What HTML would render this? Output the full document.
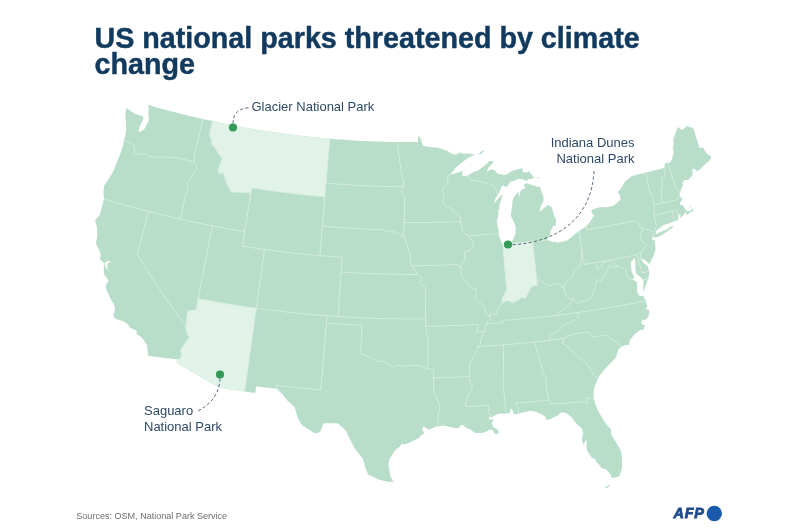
<!DOCTYPE html>
<html lang="en"><head><meta charset="utf-8"><title>US national parks threatened by climate change</title>
<style>
html,body{margin:0;padding:0;background:#fff;}
body{width:800px;height:530px;position:relative;overflow:hidden;font-family:"Liberation Sans",sans-serif;}
svg{position:absolute;left:0;top:0;}
h1{position:absolute;left:94.5px;top:24.5px;margin:0;font-size:28.7px;line-height:26px;font-weight:bold;color:#113a5e;white-space:nowrap;-webkit-text-stroke:0.45px #113a5e;}
.lab{position:absolute;font-size:13px;line-height:16.2px;color:#2f4a66;white-space:nowrap;}
.src{position:absolute;left:76.3px;top:510.7px;font-size:9.05px;line-height:11px;color:#6e6e6e;white-space:nowrap;}
.afp{position:absolute;left:673.6px;top:505.2px;font-size:14.4px;line-height:17px;font-weight:bold;font-style:italic;color:#1d4a8a;letter-spacing:0.75px;-webkit-text-stroke:0.8px #1d4a8a;}
</style></head><body>
<svg width="800" height="530" viewBox="0 0 800 530">
<path d="M147.8,104.8L148.9,108.5L148.3,112.5L148.4,115.6L149,120.3L147.5,122.9L146.1,125.5L145.2,127.5L144.2,129.5L140.7,131.5L138.5,131.7L139.1,128L139.9,126L140.8,124L143,120.1L143.4,116.8L141.7,116.1L140.1,115.4L137.7,114.7L135.3,114L132.9,112.5L130.4,111L128.5,109.4L126.5,107.8L125.9,111.3L125.3,114.8L125.7,118.7L126,122.6L126.1,126.1L126.2,129.5L125.8,133.2L125,136.4L124.2,139.6L123.7,142.1L123.3,144.7L122.4,147.5L121.6,150.3L120.3,153.8L119,157.2L117.9,159.7L116.9,162.2L115.7,165.1L114.6,168L113.4,170.9L111.8,173.7L110.1,176.5L108.4,179.4L106.2,182.6L104,185.9L103.7,189.2L103.5,192.5L103.7,195.7L104,198.9L103,202.4L102.2,205.8L101.3,209.2L100.5,212.5L98.9,215.9L97,218.1L95.1,220.3L96,223.8L97,227.2L97.1,231.8L97.3,236.3L96.6,240L96,243.7L98,247.8L100,251.8L100.8,255.2L99.9,259.5L101.4,260.8L103,262L104.9,263.8L106,262.1L108.1,261.1L111.4,262.1L107.5,263.3L107.4,267.9L108.5,270.5L106.9,268.9L105.4,267.3L105.7,264.6L104.5,264.3L103.6,268.4L103.9,271.5L104.2,274.7L106.5,277.7L108.7,280.6L106.8,283.1L106.2,285.3L105.6,287.4L107.2,291.2L108.8,295L110.5,298.8L112.2,301.4L113.9,304L114.9,307.7L114.6,311.4L113.9,313.7L113.3,316L115,318.4L117.9,319.4L120.9,320.5L123.8,321.5L126,323L128.1,324.5L129.8,327.6L132.1,328.7L134.3,329.8L136.6,330.8L136.9,334.7L139.8,335.8L142.4,338.2L144.7,341.8L147.1,345.4L147.3,348.1L147.5,350.8L147.9,353.3L148.2,355.9L151.6,356.3L154.9,356.7L158.2,357.1L161.5,357.5L164.8,357.9L168.1,358.3L171.4,358.6L174.7,359L178,359.3L176.3,362.5L179.5,364.4L182.8,366.4L186.1,368.4L189.4,370.4L192.7,372.3L196,374.3L199.3,376.2L202.6,378.2L206,380.1L209.3,382L212.7,383.9L216.1,385.8L219.4,387.7L223,388.3L226.6,388.8L230.3,389.4L233.9,389.9L237.5,390.4L241.1,391L244.7,391.5L248.2,391.9L251.7,392.4L255.2,392.9L255.7,389.6L256.1,386.3L259.6,386.7L263.1,387.2L266.6,387.6L270.1,388L273.6,388.4L277.1,388.8L280.1,392L283.1,395.1L285.3,398L287.6,400.8L290,403L292.4,405.2L294.9,407.5L295.7,410.7L296.6,414L297.5,417.3L299.3,420.8L301.2,424.2L304,426.3L306.9,428.5L309.8,430.2L312.7,431.9L315.6,433.6L318,432.7L320.3,431.8L321.4,428.9L322.5,426L323.5,423.2L326.3,423.2L329.1,423.2L331.9,423.3L334.8,423.3L337.7,423.3L340.4,425.7L343.1,428.1L345.7,430.4L347.3,433.7L348.9,437L350.4,440.2L352.8,444.8L355.3,449.3L357.8,452.3L360.3,455.4L362.8,458.4L363.6,461.4L364.4,464.3L365.1,467.3L366.7,471L368.2,474.7L371.7,476.3L375.2,477.9L378.7,479.4L381.7,480.2L384.6,481L387.5,481.8L390.6,481.8L393.6,481.9L392,478.9L390.3,476L389.7,472L389,468L388.4,464L389,461.5L389.5,459L392,455L393.8,452.4L395.5,449.7L397.8,448.1L400,446.5L401.5,443.8L404,444.6L407,443.5L410,442.4L412.8,441L415.5,439.7L418.3,438.3L420.9,435.8L424.7,432.8L422.1,429.9L423.4,426.2L426,428L428.6,429.8L431.8,428.4L435,427.1L436.9,426.7L440.4,426.1L444,425.5L447,426.3L450,427L453.1,427.7L455.7,428L458.3,428.3L462,424.5L464.7,426.6L467.3,428.6L470,429.3L472.7,431.3L475.3,432.7L478.6,432.9L481.8,433.1L484.4,432.2L486.9,431.3L489.4,429.6L492.7,430.2L494.9,433.7L498.2,434.2L498.6,430.5L495.9,428.8L493.2,427.2L492.4,425L491.6,422.9L493.9,419.8L491.4,419.6L488.8,419.4L489.3,417.1L492.1,417.2L494.9,415.3L498,413.9L499.9,413.4L502.2,413.6L504.4,413.8L506.3,413.2L509.6,413.4L510.5,408.9L512.1,408.8L513.4,413.1L515.4,414.4L517.7,413.8L519.7,413.2L521.7,412.7L524.6,412L527.6,411.4L530.5,410.8L533.1,411.3L535.8,411.7L538.5,412.9L541.2,414.1L545.3,416.7L546.3,420L548.5,419.5L550.8,419L554.4,417.1L558.1,415.2L559.8,413.6L561.6,412.1L564.3,412.7L566.9,413.3L571.3,416.9L574.1,420.6L576.8,424.2L579.4,426.3L582,428.4L582.5,431.3L583.1,434.2L582,438L582,441L582.9,443.1L583.7,445.2L585.1,441.3L587,440.3L586.7,442.9L586.4,445.6L586.6,447.8L586.8,450L588,452L589.3,454L590.8,456.1L592.2,458.1L595.7,459L595.4,461.3L597.5,463.3L599.6,465.3L601.4,468.1L603.7,468.7L606.1,469.3L608.3,471.9L610.6,474.5L611.6,478L613.6,477.7L616.5,476.9L619.5,476L620.7,472.1L621.4,469.7L622.2,467.2L622.1,464.6L622,462L621.8,457.8L621.5,453.5L620.4,450L618.5,446.6L616.7,443.5L614.9,440.5L613,437.5L611.1,434.4L611,431.8L610.8,429.1L607.3,425.4L605.1,422.4L603,419.3L601.2,416.2L599.4,413L597.6,409.8L596.5,406.9L595.4,404.1L594.7,401.3L593.9,398.4L593.7,395.1L593.6,391.7L594.1,389L594.6,386.3L596.5,382.1L598.4,377.8L599.9,375L602.6,372.3L604.1,369.8L606.2,367.6L608.4,365.4L610.5,363.1L612.6,360.9L614.3,359.1L616,357.3L617.2,353.3L618.4,349.3L620.2,347.9L622,346.4L624,345.7L626,344.9L629.1,345.1L629.5,342.4L630,339.6L632.3,336.9L634.5,334.2L637,332.4L639.4,330.5L641.4,330L643.5,329.4L645.1,325.3L641.8,324.4L641.7,320.7L644.3,319.8L646.8,318.9L649,314.6L649.2,310L646,309.2L647.2,305.9L646.5,303.4L645.8,300.9L644.5,298.3L643.2,295.7L639.6,296.1L637,292.1L637.3,287.5L637,284.9L636.8,282.3L635.3,281.1L631.5,279.6L634.2,278.3L633.6,275.4L632.6,273.3L631.5,271.2L631.2,266.8L630.9,262.3L632.7,260L634.6,257.7L635.3,261.4L635.4,264.4L635.4,267.4L635.8,270.4L636.1,273.3L640.4,277L643.4,280.1L643.4,282.8L643.4,285.4L643.3,289.1L643.2,292.8L644.3,289.7L645.4,286.5L646.5,283.3L647.6,280L648.4,278.3L648.8,275.7L649.3,273.1L649.2,271.3L648.4,268.8L647.6,266.3L645.4,264.5L643.2,262.7L641.3,259.3L640.3,257.3L642.2,259.1L645.7,260.6L649.4,263.9L651.3,260.2L653.3,256.5L654.4,253.2L655.5,249.9L655.3,246.6L655.1,243.3L654.3,239.7L651.4,239.6L652.5,237L653.2,236.1L653.5,233L653.5,231.5L653.7,234.5L653.5,237.6L655,237.7L657.1,236.9L659.2,236.2L661.3,235.4L663.7,233.8L666,232.3L668.2,230.7L671.2,228.6L674.1,226.5L670.7,226.6L669,227.9L667.3,229.2L665,230.2L662.6,231.1L660,232.2L657.4,233.2L655.4,234.4L656.2,230.9L658.6,228.8L661,226.9L663.4,225L665.5,224.4L667.7,223.8L669.8,223L671.8,222.1L674.5,221.6L676.4,220.7L678.3,219.8L678.3,216.2L677.6,213.3L679.9,215.8L679.9,217.8L681.7,216.8L682.8,215.8L683.6,214.8L686.1,211.8L686.4,215.2L688.2,213.9L689.9,212.6L691.7,211.8L693.5,211L692.8,208.4L689.8,205.9L688.8,206.5L691.4,207.6L692.3,209.6L689.6,211.3L687.3,211.2L685,209L683.3,205.7L679.7,204.3L680.1,202.7L681.4,200.8L682.8,198.9L679.6,196.4L679.9,193.3L681.4,188.6L683.4,184.7L682.3,183L684.9,180L686.6,179.9L688.4,179.8L689.8,178.2L691.1,176.7L692.6,174L692.4,171.5L692.3,169.1L694.4,168.8L696.8,171.2L698.5,170.3L700.1,169.4L702.6,166.4L704.3,165L706.1,163.5L707.9,162L709.6,160.4L711.4,157.3L710.7,156.2L706.5,153.2L704.8,150.5L703.2,147.8L701.1,147.7L699.1,147.5L698.2,144.1L697,140.1L695.8,136.2L694.6,132.3L693.3,128.3L691.6,127.5L689.2,126.7L686.9,126L684.7,128.2L683.4,129.1L682,130L679.9,128.5L677.8,127L676.2,131.3L674.7,135.5L673.1,139.8L673.4,142L673.7,144.2L672.7,149L673.8,151.8L673,155L672.4,157.5L671.7,160L670.2,162.6L667.7,162.5L666.2,163.3L664.6,164.1L664.5,167.8L661.8,168.5L659.1,169.2L656.4,169.9L653.7,170.5L651,171.2L648.3,171.9L645.6,172.5L642.9,173.2L640.1,173.9L637.4,174.6L634.6,175.2L631.8,175.9L629.4,177.9L627,180L624.6,182L623,185.1L621.3,188.3L619.5,190.2L617.7,192.1L619.6,194.4L620.1,196.9L620.6,199.4L617.9,202.1L615.5,204L613.2,205.9L610,206.6L606.8,207.3L604.6,207.2L602.4,207.1L600.2,206.9L597.2,208L594.2,209.1L591.2,210.2L591.7,212.8L594,215.4L592.1,218.6L590.2,221.8L588.3,223.9L586.4,225.9L584.7,227.2L583,228.6L580.9,230L578.8,231.5L576,233.2L573.8,235L571.6,236.9L569.3,238.7L567.1,240.5L564.5,241.1L561.9,241.7L559.1,242.3L556.2,242.8L555.8,241.6L553.5,242.2L550.3,241L547.2,239.9L548.2,237.2L550.1,234.7L550.6,230.5L552.2,228.5L552.8,226.1L555.7,225.4L555.9,222.6L556.1,219.7L554.3,215.9L553.1,211.8L551.9,207.6L550,206.3L548.1,204.9L545.1,207.2L542.3,209.8L539.5,212.3L540.1,209.2L540.6,206.2L542.6,203L543.6,200.3L543.5,196.9L542.4,194L541.3,191.1L540.2,187L538.4,186.7L536.6,186.4L534.3,185.7L532,185L529.7,184.3L526.4,183.2L523.9,184.5L524.9,188.5L523.3,189.1L521.8,189.6L520.5,191.6L519.7,194.8L518.9,198.1L518.9,194.9L518.9,191.7L516.5,194.2L514,196.7L512.6,200.8L512.4,203.6L512.2,206.5L511.4,211L511.1,213.2L510.8,215.5L512.2,218.5L513.6,221.4L514.8,223.8L515.7,228.1L515.6,230.8L515.5,233.6L513.6,238.2L512.4,240.6L511.2,242.9L510.5,243.6L509.7,244.3L507.5,245.2L505.4,246.1L502.7,244.3L501.8,243L500.8,240.2L499.8,237.9L498.8,235.7L498.8,233.6L498.7,230.2L498,228L497.3,225.8L497.1,223.2L496.9,220.6L497.6,217.9L498.3,215.2L498.4,212.6L498.4,210.1L499.4,209.2L499.5,206.9L499.5,204.6L500.4,202L501.2,199.4L502.1,196.7L503,194.1L501.2,195.7L499.4,197.3L496.5,200.5L494.2,204L494.7,201.2L495.3,198.4L497.7,195.3L499.9,190.7L501.2,188L502.4,185.3L504.7,186.2L506.9,187.1L508.7,184.3L510.5,181.5L512.3,181.2L514.1,180.9L516.3,179.8L518.6,178.8L521,179.1L523.3,179.4L526.4,181L528,179.8L529.5,178.7L530.1,179.1L532.1,178.7L534.2,178.4L532.8,176.1L531,173.7L529.2,171.4L526.7,172.4L524.6,172.3L522.5,172.2L522.6,168.2L520,168.8L517.4,169.5L514.8,170.1L512.2,170.8L510.1,172.2L507.9,173.7L505.7,175.1L503.1,174.7L500.5,174.3L497.9,173.9L496,172L494.2,170.1L491.3,169.4L489.1,170.6L486.9,171.9L488.1,168.1L490.9,165L493.7,161.8L491.8,161L489.1,161.3L487,163.4L484.8,165.5L482.5,167.3L480.2,169L477.8,170.8L475.4,171.5L473,172.2L471,173.4L468.9,174.7L466.9,175.9L464.5,175.8L462.1,175.7L462.4,173.1L462.7,170.6L460.7,171.4L458.6,172.2L455.8,173.1L452.9,174L450,174.8L451.9,172.4L453.7,170L455.8,167.8L457.8,165.7L460.1,163.9L462.3,162.2L464.6,160.4L466.8,158.7L468.9,157.5L471,156.4L473.1,155.2L474.9,154.5L472.4,153.9L469.8,153.4L467.3,153.5L464.8,153.7L462.3,153.8L460.7,152L457.8,154L455.8,154.3L453.8,154.5L452.2,153.7L450.7,152.9L447.6,150.9L445.3,150.2L443,149.6L440.2,148.6L437.5,147.6L435.5,147.6L432.5,147.3L429.5,147L426.5,146.6L423.5,146.1L422.5,144.2L421.2,140.4L419.9,136.6L417.9,136.6L418,139.4L418,142.1L415,142.1L412.1,142.1L409.1,142.1L406.2,142.1L403.3,142.1L400.3,142.1L397.4,142L394.4,142L391.5,141.9L388.5,141.9L385.6,141.8L382.7,141.7L379.7,141.6L376.8,141.5L373.9,141.4L370.9,141.3L368,141.2L365,141L362.1,140.9L359.2,140.7L356.2,140.6L353.3,140.4L350.4,140.2L347.4,140L344.5,139.8L341.6,139.6L338.6,139.4L335.7,139.2L332.8,138.9L329.8,138.7L326.9,138.4L323.9,138.1L321,137.9L318,137.6L315,137.3L312.1,137L309.1,136.7L306.2,136.3L303.2,136L300.3,135.7L297.3,135.3L294.4,134.9L291.4,134.6L288.5,134.2L285.5,133.8L282.6,133.4L279.6,133L276.7,132.6L273.7,132.2L270.8,131.7L267.8,131.3L264.9,130.8L262,130.4L259,129.9L256.1,129.4L253.2,128.9L250.2,128.4L247.3,127.9L244.4,127.4L241.4,126.9L238.5,126.3L235.6,125.8L232.7,125.2L229.8,124.7L226.8,124.1L223.9,123.5L221,122.9L218.1,122.3L215.2,121.7L212.3,121.1L209.9,120.6L207.5,120L205.2,119.5L202.8,119L200,118.4L197.3,117.7L194.5,117.1L191.7,116.4L189,115.8L186.2,115.1L183.4,114.4L180.7,113.7L177.9,113L175.2,112.3L172.4,111.6L169.7,110.9L166.9,110.2L164.2,109.4L161.5,108.7L158.7,107.9L156,107.2L153.2,106.4L150.5,105.6L147.8,104.8ZM479,153.6L481,151.6L483.3,150.3L484,151.3L482,153L480,154.6ZM536.2,177.9L538.7,176.8L538.9,178.3ZM605,487.6L607,486L609.6,484.8L610,485.8L608,487.2L605.6,488.4Z" fill="#b8ddc8"/>
<path d="M212.3,121.1L211.5,124.7L210.7,128.3L209.9,131.9L209.2,135.5L210.5,137.9L211.8,140.3L211,143.8L212.8,145.3L214.6,146.8L215.9,149.3L217.2,151.8L218.8,153.9L220.5,155.9L222.2,158L221.1,161.1L219.9,164.3L219,167.8L218,171.4L219.6,173.9L221.7,173.3L223.7,172.6L224.3,177.1L225.6,180.5L226.9,184L228.2,186.6L229.9,189.6L231.6,192.6L234.6,192.3L237.7,192L240.5,192.3L243.3,192.6L246.1,192.9L248.7,192.3L250.5,195.5L251.1,191.7L251.7,187.8L254.8,188.3L257.8,188.8L260.8,189.3L263.9,189.7L266.9,190.2L270,190.6L273,191L276,191.4L279.1,191.8L282.1,192.2L285.2,192.6L288.2,193L291.3,193.4L294.3,193.7L297.4,194.1L300.4,194.4L303.5,194.8L306.5,195.1L309.6,195.4L312.6,195.7L315.7,196L318.7,196.3L321.8,196.6L324.9,196.8L325.1,193.4L325.4,190L325.7,186.5L326,183.1L326.4,179L326.7,175L327.1,170.9L327.4,166.9L327.8,162.8L328.1,158.8L328.5,154.8L328.8,150.7L329.2,146.7L329.5,142.7L329.8,138.7L326.9,138.4L323.9,138.1L321,137.9L318,137.6L315,137.3L312.1,137L309.1,136.7L306.2,136.3L303.2,136L300.3,135.7L297.3,135.3L294.4,134.9L291.4,134.6L288.5,134.2L285.5,133.8L282.6,133.4L279.6,133L276.7,132.6L273.7,132.2L270.8,131.7L267.8,131.3L264.9,130.8L262,130.4L259,129.9L256.1,129.4L253.2,128.9L250.2,128.4L247.3,127.9L244.4,127.4L241.4,126.9L238.5,126.3L235.6,125.8L232.7,125.2L229.8,124.7L226.8,124.1L223.9,123.5L221,122.9L218.1,122.3L215.2,121.7L212.3,121.1ZM185.7,326.4L186.2,322.7L186.7,319L187,315.3L187.4,311.6L189.6,310.9L191.8,310.2L193.9,310.2L196,310.3L196.7,306.4L197.5,302.5L198.2,298.6L201.6,299.3L205,299.9L208.4,300.5L211.8,301.1L215.3,301.8L218.7,302.3L222.1,302.9L225.5,303.5L228.9,304.1L232.3,304.6L235.7,305.2L239.1,305.7L242.6,306.2L246,306.8L249.4,307.3L252.8,307.7L256.3,308.2L255.7,312.6L255,317L254.4,321.4L253.8,325.8L253.2,330.2L252.6,334.6L252,338.9L251.4,343.3L250.8,347.7L250.2,352.1L249.6,356.5L249,360.8L248.3,365.2L247.7,369.6L247.1,374L246.5,378.4L245.9,382.7L245.3,387.1L244.7,391.5L241.1,391L237.5,390.4L233.9,389.9L230.3,389.4L226.6,388.8L223,388.3L219.4,387.7L216.1,385.8L212.7,383.9L209.3,382L206,380.1L202.6,378.2L199.3,376.2L196,374.3L192.7,372.3L189.4,370.4L186.1,368.4L182.8,366.4L179.5,364.4L176.3,362.5L178,359.3L179.3,359.6L181.5,355.8L180.9,352.7L180.3,349.5L182.7,347L185,343.3L187.4,339.6L189.6,337.7L187.5,335.1L186.6,331.9L185.7,328.7L185.7,326.4ZM510.5,243.6L509.7,244.3L507.5,245.2L505.4,246.1L502.7,244.3L503,248.2L503.4,252.2L503.7,256.1L504.1,260.1L504.4,264L504.8,268L505.1,272L505.5,275.9L505.8,279.9L506.1,283.2L506.4,286.5L506.7,289.8L504.5,294.1L502.5,297.3L502.2,300.3L502,303.3L504.6,301.8L507.1,300.3L510,301.5L512.8,302.6L515.6,301.5L518.5,300.3L521.6,297L524.7,298.9L526.2,296.4L527.7,293.8L529.5,290.2L531.2,286.6L534.4,285.9L537.5,285.1L537.2,282.8L537,280.4L536.5,276.1L536,271.7L535.5,267.4L535,263L534.5,258.6L534,254.3L533.5,249.9L533,245.6L532.5,241.2L529.4,241.6L526.2,242L523.1,242.3L519.9,242.6L516.8,243L513.6,243.3L510.5,243.6Z" fill="#e1f2e9"/>
<path d="M124.2,139.6L126.1,141L128.8,142.3L131.5,143.6L134.1,144.9L134.6,148.8L134.6,152.6L137,153.7L139.4,154.8L142.9,153.9L145,154.2L147.1,154.5L148.5,155.7L149.9,156.9L152.9,157L155,157.1L157.1,157.3L160.4,157.2L163.6,157.1L165.7,157.1L167.9,157.2L170,157.3L171.7,157.1L173.5,157L176.5,157.7L179.4,158.4L182.4,159.1L185.4,159.8L188.3,160.5L191.3,161.2L194.3,161.9M194.3,161.9L194.4,158.7L194.4,155.6L195.4,151.5L196.3,147.4L197.2,143.4L198.2,139.3L199.1,135.2L200,131.1L200.9,127.1L201.9,123L202.8,119M194.3,161.9L195.9,165.2L197.6,168.6L195.9,170.5L194.3,172.4L191.8,176.4L190.8,178.5L188.7,180.6L186.6,182.7L187.8,186.8L188.6,188.4L187.3,190.8L186.1,193.2L185.1,197.5L184.1,201.8L183.1,206.1L182.2,210.4L181.2,214.8L180.2,219.1M104,198.9L106.9,199.8L109.9,200.7L112.8,201.5L115.8,202.4L118.8,203.3L121.7,204.1L124.7,205L127.7,205.8L130.6,206.6L133.6,207.5L136.6,208.3L139.6,209.1L142.5,209.9L145.5,210.7L148.5,211.4L151.7,212.2L154.8,213L158,213.8L161.2,214.6L164.3,215.4L167.5,216.1L170.7,216.9L173.9,217.6L177,218.4L180.2,219.1L183.4,219.8L186.6,220.5L189.8,221.2L193,221.9L196.2,222.6L199.4,223.2L202.6,223.9L205.8,224.5L209.1,225.2L212.3,225.8L215.5,226.4L218.8,227L222,227.6L225.2,228.2L228.5,228.8L231.7,229.4L235,229.9L238.2,230.5L241.5,231L244.7,231.5M148.5,211.4L147.4,215.7L146.3,220L145.2,224.3L144.1,228.6L142.9,232.9L141.8,237.2L140.7,241.5L139.6,245.9L138.5,250.2L137.4,254.5L139.9,258.5L142.4,262.6L144.9,266.6L147.5,270.6L150.1,274.6L152.7,278.7L155.3,282.7L158,286.7L160.6,290.7L163.3,294.7L166.1,298.7L168.8,302.7L171.6,306.6L174.4,310.6L177.2,314.6L180,318.5L182.9,322.5L185.7,326.4M185.7,326.4L185.7,328.7L186.6,331.9L187.5,335.1L189.6,337.7L187.4,339.6L185,343.3L182.7,347L180.3,349.5L180.9,352.7L181.5,355.8L179.3,359.6L178,359.3M185.7,326.4L186.2,322.7L186.7,319L187,315.3L187.4,311.6L189.6,310.9L191.8,310.2L193.9,310.2L196,310.3L196.7,306.4L197.5,302.5L198.2,298.6M198.2,298.6L199.1,294.3L199.9,290L200.7,285.7L201.5,281.5L202.4,277.2L203.2,272.9L204,268.6L204.8,264.3L205.7,260L206.5,255.7L207.3,251.5L208.2,247.2L209,242.9L209.8,238.6L210.6,234.3L211.5,230.1L212.3,225.8M198.2,298.6L201.6,299.3L205,299.9L208.4,300.5L211.8,301.1L215.3,301.8L218.7,302.3L222.1,302.9L225.5,303.5L228.9,304.1L232.3,304.6L235.7,305.2L239.1,305.7L242.6,306.2L246,306.8L249.4,307.3L252.8,307.7L256.3,308.2L259.6,308.7L263,309.1L266.3,309.6L269.7,310L273.1,310.4L276.4,310.8L279.8,311.2L283.2,311.6L286.5,312L289.9,312.4L293.3,312.7L296.6,313.1L300,313.4L303.4,313.8L306.8,314.1L310.1,314.4L313.5,314.7L316.9,315L320.3,315.3L323.7,315.5L327,315.8L329.8,316L332.6,316.2L335.4,316.4L338.2,316.6L341.7,316.8L345.2,317L348.7,317.2L352.2,317.4L355.6,317.6L359.1,317.7L362.6,317.9L366.1,318L369.6,318.2L373.1,318.3L376.6,318.4L380.1,318.5L383.6,318.6L387.1,318.7L390.6,318.7L394.1,318.8L397.6,318.8L401.1,318.9L404.6,318.9L408.1,318.9L411.6,318.9L415.1,318.9L418.6,318.9L422.1,318.9L425.6,318.8M264.4,249.4L263.9,253.6L263.3,257.8L262.7,262L262.1,266.2L261.5,270.4L260.9,274.6L260.4,278.8L259.8,283L259.2,287.2L258.6,291.4L258,295.6L257.4,299.8L256.9,304L256.3,308.2L255.7,312.6L255,317L254.4,321.4L253.8,325.8L253.2,330.2L252.6,334.6L252,338.9L251.4,343.3L250.8,347.7L250.2,352.1L249.6,356.5L249,360.8L248.3,365.2L247.7,369.6L247.1,374L246.5,378.4L245.9,382.7L245.3,387.1L244.7,391.5M264.4,249.4L261.3,249L258.1,248.5L255,248.1L251.8,247.6L248.7,247.1L245.5,246.6L242.4,246.1L243,242.5L243.6,238.8L244.2,235.2L244.7,231.5M244.7,231.5L245.4,227.5L246,223.5L246.7,219.5L247.3,215.5L247.9,211.5L248.6,207.5L249.2,203.5L249.9,199.5L250.5,195.5M250.5,195.5L251.1,191.7L251.7,187.8L254.8,188.3L257.8,188.8L260.8,189.3L263.9,189.7L266.9,190.2L270,190.6L273,191L276,191.4L279.1,191.8L282.1,192.2L285.2,192.6L288.2,193L291.3,193.4L294.3,193.7L297.4,194.1L300.4,194.4L303.5,194.8L306.5,195.1L309.6,195.4L312.6,195.7L315.7,196L318.7,196.3L321.8,196.6L324.9,196.8M264.4,249.4L267.7,249.9L270.9,250.3L274.2,250.8L277.4,251.2L280.7,251.6L283.9,252L287.2,252.4L290.4,252.7L293.7,253.1L297,253.5L300.2,253.8L303.5,254.1L306.7,254.5L310,254.8L313.3,255.1L316.5,255.4L319.8,255.7L323,255.9L326.1,256.2L329.3,256.4L332.5,256.7L335.7,256.9L338.8,257.1L342,257.3M329.8,138.7L329.5,142.7L329.2,146.7L328.8,150.7L328.5,154.8L328.1,158.8L327.8,162.8L327.4,166.9L327.1,170.9L326.7,175L326.4,179L326,183.1L325.7,186.5L325.4,190L325.1,193.4L324.9,196.8L324.5,201L324.1,205.2L323.8,209.4L323.4,213.6L323.1,217.8L322.7,222L322.3,226.2L322,230.4L321.6,234.6L321.2,238.8L320.9,243L320.5,247.2L320.2,251.4L319.8,255.7M342,257.3L341.8,261L341.5,264.7L341.3,268.4L341.1,272.1L340.8,276.6L340.5,281L340.2,285.5L339.9,289.9L339.6,294.3L339.3,298.8L339.1,303.2L338.8,307.7L338.5,312.1L338.2,316.6M341.1,272.1L344.4,272.3L347.7,272.5L351,272.7L354.3,272.9L357.6,273.1L360.9,273.2L364.2,273.4L367.5,273.5L370.8,273.6L374.1,273.8L377.4,273.9L380.8,274L384.1,274.1L387.4,274.1L390.7,274.2L394,274.3L397.3,274.3L400.6,274.3L403.9,274.4L407.2,274.4L410.6,274.4L413.9,274.4L417.2,274.4M322.3,226.2L325.5,226.5L328.6,226.7L331.8,227L335,227.2L338.1,227.4L341.3,227.6L344.4,227.8L347.6,228L350.7,228.2L353.9,228.4L357.1,228.6L360.2,228.7L363.4,228.9L366.5,229L369.7,229.2L372.9,229.3L376,229.4L379.2,229.5L382.4,229.6L385.6,230.8L388.8,232L391.5,231.9L394.2,231.8L396.4,232.5L398.6,233.3L401.8,235.9L404.5,237.5M326,183.1L329.1,183.4L332.2,183.6L335.3,183.8L338.4,184.1L341.5,184.3L344.6,184.5L347.7,184.7L350.8,184.9L354,185.1L357.1,185.3L360.2,185.4L363.3,185.6L366.4,185.7L369.5,185.9L372.6,186L375.7,186.1L378.8,186.2L381.9,186.3L385,186.4L388.1,186.5L391.2,186.5L394.4,186.6L397.5,186.6L400.6,186.7L403.7,186.7M212.3,121.1L211.5,124.7L210.7,128.3L209.9,131.9L209.2,135.5L210.5,137.9L211.8,140.3L211,143.8L212.8,145.3L214.6,146.8L215.9,149.3L217.2,151.8L218.8,153.9L220.5,155.9L222.2,158L221.1,161.1L219.9,164.3L219,167.8L218,171.4L219.6,173.9L221.7,173.3L223.7,172.6L224.3,177.1L225.6,180.5L226.9,184L228.2,186.6L229.9,189.6L231.6,192.6L234.6,192.3L237.7,192L240.5,192.3L243.3,192.6L246.1,192.9L248.7,192.3L250.5,195.5M397.4,142L397.8,145.9L398.2,149.8L398.7,153.7L399.2,157.6L399.7,161.4L400.3,165.3L400.9,169.1L401.5,172.9L402.1,175.9L402.7,178.9L403.3,181.9L403.5,184.3L403.7,186.7M403.7,186.7L402.2,189.2L400.6,191.7L402.7,193.9L404.8,196.1L404.7,200.5L404.7,204.9L404.7,209.3L404.7,213.7L404.6,218.2L404.6,222.6M404.6,222.6L403,222.6L403.8,225.5L404.6,228.5L403.7,230.7L402.9,232.9L403.7,235.2L404.5,237.5M404.6,222.6L407.7,222.6L410.9,222.6L414,222.6L417.1,222.6L420.2,222.6L423.4,222.5L426.5,222.5L429.6,222.4L432.7,222.4L435.9,222.3L439,222.2L442.1,222.1L445.2,222L448.4,221.9L451.5,221.8L454.6,221.7L457.7,221.5L460.8,221.4M404.5,237.5L405.9,241.1L407.2,244.8L408.2,248.4L409.2,252.1L410.2,255.7L410.6,260L411.1,264.3L412,265.8M412,265.8L414.6,270.1L417.2,274.4M412,265.8L415.2,265.8L418.4,265.7L421.7,265.7L424.9,265.6L428.1,265.5L431.4,265.5L434.6,265.4L437.8,265.3L441.1,265.2L444.3,265.1L447.5,264.9L450.8,264.8L454,264.6L457.2,264.5L459,266L460.8,267.6M417.2,274.4L419.5,275.8L421.8,277.3L420.7,280.3L419.6,283.3L422.4,285.4L425.3,287.5L425.3,291.4L425.3,295.3L425.4,299.2L425.4,303.2L425.4,307.1L425.5,311L425.5,314.9L425.6,318.8M425.6,318.8L425.6,322.5L425.7,326.2M425.7,326.2L429.2,326.2L432.7,326.1L436.2,326L439.8,326L443.3,325.9L446.8,325.8L450.4,325.6L453.9,325.5L457.4,325.4L460.9,325.2L464.5,325.1L468,324.9L471.5,324.7L475,324.5L478.6,324.3L477.5,328.1L476.4,331.9L479,331.7L481.7,331.5L484.4,331.4M425.7,326.2L426.3,330.3L426.9,334.4L427.5,338.5L428.2,342.5L428.1,346.9L428,351.2L428,355.6L427.9,359.9L427.9,364.3L427.8,368.6M427.8,368.6L430.6,369.3L433.4,369.9L433.4,373.8L433.5,377.7M433.5,377.7L437.1,377.7L440.6,377.6L444.2,377.5L447.7,377.4L451.3,377.3L454.8,377.1L458.4,377L461.9,376.8L465.5,376.7L469,376.5M433.5,377.7L433.6,381.5L433.7,385.3L433.7,389.1L433.8,392.8L435.7,396.5L437.6,400.1L439,403.8L440.3,407.5L439.3,411.2L438.3,414.9L438.2,418.6L438.1,422.3L437.5,424.5L436.9,426.7M427.8,368.6L424.7,367.7L421.6,366.8L418.5,365.8L415.4,364.9L412.3,365.3L409.3,365.7L405.6,365.9L401.9,366.1L399.5,365.4L397,364.8L394.5,367L391.5,365.9L388.4,364.7L386,362.8L383.6,360.9L380.6,361.2L377.5,361.5L374.7,359.9L371.9,358.3L369.1,356.7L366.3,355.8L363.5,354.9L360.7,353.9L360.9,349.8L361.1,345.7L361.2,341.6L361.4,337.5L361.6,333.5L361.8,329.4L362,325.3L358.4,325.1L354.9,324.9L351.3,324.8L347.8,324.6L344.2,324.4L340.7,324.2L337.1,323.9L333.6,323.7L330,323.4L326.5,323.2M327,315.8L326.8,319.5L326.5,323.2L326.1,327.6L325.7,332.1L325.3,336.5L325,340.9L324.6,345.4L324.2,349.8L323.8,354.2L323.4,358.7L323.1,363.1L322.7,367.5L322.3,372L321.9,376.4L321.5,380.8L321.1,385.2L320.8,389.7L317,389.4L313.3,389.1L309.6,388.8L305.9,388.4L302.2,388.1L298.5,387.8L294.8,387.4L291.1,387L287.4,386.7L283.7,386.3L280,385.9L276.3,385.5L277.1,388.8M450,174.8L447.6,175.5L447.8,179.7L447.9,184L445.8,185.4L443.8,186.8L442.9,189.2L442,191.7L444.5,194.1L443.8,196.7L443.1,199.3L443.3,203.7L446.2,206.2L448,207L449.8,207.9L451.6,208.8L453.7,211.2L455.9,213.5L458.1,215.2L460.3,217L460.8,221.4M460.8,221.4L461.4,224.7L461.9,228L463,232.4L465.4,234.1L467.8,235.8M467.8,235.8L470.6,238.6L473.4,241.4L473.5,245.1L471.6,247.8L469.7,250.5L467,251.3L464.2,252L464.6,254.3L465,256.7L464.6,258.9L464.1,261.2L462,263.8L460.8,267.6M460.8,267.6L461,270.9L461.2,274.2L462.1,277.6L465.7,281.2L467.9,284.4L470,287.6L472.9,288.2L476.2,289L476.3,292.8L475.4,295.3L474.4,297.8L476.4,299.9L478.4,302L481,303.3L483.1,305.4L485.1,307.5L485.2,309.7L485.2,312L486.8,314.8L490.1,316.1M490.1,316.1L490.1,319.8L488.2,321.5L486.2,323.1L486.2,323.8L485.3,327.6L484.4,331.4M484.4,331.4L482.3,336L481.2,338.3L480.1,340.6L480.7,344.2L478.1,346.6M478.1,346.6L476.6,350.4L475.1,354.2L472.8,358.1L470.4,361.9L469.9,364.2L469.8,367.5L469.6,370.8L469.3,373.7L469,376.5M469,376.5L469.6,379.6L470.2,382.7L472.9,386.2L471.8,388.9L470.7,391.5L468.8,395L467,398.4L466,402.5L465.1,406.6L468.4,406.5L471.8,406.3L475.2,406.1L478.6,405.9L482,405.7L485.4,405.5L488.8,405.3L488.5,408.3L488.3,411.3L490.2,414.2L492.1,417.2M466.9,175.9L468.6,177.8L470.4,179.6L473,180.1L475.6,180.6L478.2,181.1L480.9,181.6L484,182.4L487.2,183.2L489.4,184.3L491.6,185.5L494.2,186L495.5,188.8L496.8,191.7L497.7,195.3M467.8,235.8L470.9,235.6L474,235.4L477.1,235.3L480.2,235.1L483.3,234.8L486.4,234.6L489.5,234.4L492.6,234.1L495.7,233.9L498.8,233.6M502.7,244.3L503,248.2L503.4,252.2L503.7,256.1L504.1,260.1L504.4,264L504.8,268L505.1,272L505.5,275.9L505.8,279.9L506.1,283.2L506.4,286.5L506.7,289.8L504.5,294.1L502.5,297.3L502.2,300.3L502,303.3M510.5,243.6L513.6,243.3L516.8,243L519.9,242.6L523.1,242.3L526.2,242L529.4,241.6L532.5,241.2M532.6,242.1L532.5,241.2L533,245.6L533.5,249.9L534,254.3L534.5,258.6L535,263L535.5,267.4L536,271.7L536.5,276.1L537,280.4M532.6,242.1L535.6,241.7L538.5,241.3L541.4,240.8L544.3,240.3L547.2,239.9M490.1,316.1L491.4,313L493.8,313.8L496.2,314.6L496.8,312.1L497.4,309.6L499.4,307.2L501.3,304.8L502,303.3M502,303.3L504.6,301.8L507.1,300.3L510,301.5L512.8,302.6L515.6,301.5L518.5,300.3L521.6,297L524.7,298.9L526.2,296.4L527.7,293.8L529.5,290.2L531.2,286.6L534.4,285.9L537.5,285.1L537.2,282.8L537,280.4M537,280.4L538.8,280.2L540.6,280L542.6,282L544.6,284L547.3,284.8L550,285.6L552.8,284.8L555.6,284L558.4,283.3L560.4,285.4L563.6,287.2M563.6,287.2L565.4,283.9L567.3,280.7L569.6,279L572,277.3L573.4,273L574.5,270.9L576.8,269L579.1,267.2L580.7,265.1L580.9,262.5L581.2,259.8L581.6,255.4L582,251.1M578.8,231.5L579.5,235.4L580.1,239.3L580.8,243.3L581.4,247.2L582,251.1L582.6,254.5L583.1,257.8L583.7,261.2L584.2,264.6M584.2,264.6L587.1,264.1L590,263.6L592.9,263.1L595.8,262.6L599,262L602.2,261.5L605.4,260.9L608.5,260.3L611.7,259.7L614.8,259.1L618,258.5L621.2,257.9L624.3,257.3L627.5,256.6L630.6,256L633.8,255.3L636.9,254.7M636.9,254.7L638.7,252.7L640.8,252.6M640.3,257.3L640.8,252.6M640.8,252.6L643.5,249.7L645.1,247.5L646.7,245.2L644.3,243.1L641.9,241L640.4,239L640.3,235L642,231.7L643.7,228.4M643.7,228.4L640.4,227.4L639.1,224.8L637.8,222.2L634.6,220.6L631.4,221.3L628.3,222L625.1,222.6L622,223.3L618.8,223.9L615.6,224.6L612.5,225.2L609.3,225.8L606.1,226.4L602.9,227L599.8,227.6L596.6,228.2L593.4,228.7L590.2,229.3L587,229.8L586.4,225.9M643.7,228.4L647,229.5L650.2,230.5L653.5,231.5M656.2,230.9L655,229.6L656.3,226.3L655.6,222.6L654.9,219L654.2,215.3L654.3,211.8L654.3,208.2L654.3,204.7L653.4,200.6L652.5,196.5L651.5,192.5L650.1,193.5L649.4,190.3L648.6,187.1L648.1,183.4L647.6,179.8L646.6,176.1L645.6,172.5M664.5,167.8L664.2,171.8L664.5,174.4L664.7,177L663.1,178.2L661.5,179.4L662,182.3L662.4,185.2L661.3,189.3L661.3,192.7L661.3,196.1L662.1,199.5L662.9,202.9M654.3,204.7L657.2,204.1L660,203.5L662.9,202.9L666,202.2L669.1,201.5L672.2,200.9L675.2,200.2L677.4,198.3L679.6,196.4M654.2,215.3L657.3,214.7L660.3,214L663.4,213.3L666.4,212.6L669.4,211.9L672.4,211.1L674.7,210.7L677,210.3L677.4,211.8L678.6,214.1L681.2,215.4L681.7,216.8M672.4,211.1L673.1,214.6L673.8,218.1L674.5,221.6M679.9,193.3L677.6,190.1L675.4,186.8L674.1,182.8L672.8,178.7L671.5,174.7L670.3,170.6L669,166.6L667.7,162.5M636.9,254.7L637.9,258.3L638.9,261.9L639.9,265.5L640.9,269.1L641.9,272.7L644.3,272.2L646.8,271.8L649.2,271.3M643.4,280.1L645.9,279.2L648.4,278.3M631.5,279.6L627.6,278.1L626.7,274.1L625.7,270.2L622.8,268.5L619.7,266.8L616.5,265.1L614.6,263.3L612.7,261.4L610.4,260.3L607.2,261.2L604.1,262.2L601.9,265.6L599.5,267.9L597.2,270.2L596.5,266.4L595.8,262.6M616.5,265.1L615.9,267.8L612.6,266.4L609.3,265L607.9,268.4L606.6,271.8L605.2,275.3L603.5,274.4L602.4,278L601.2,281.5L599,280.4L596.8,279.3L596.1,282.4L595.5,285.6L594.8,288.7L593.4,292.7L592,296.7L590,298.5L588.1,299.6L586.1,300.6L583.5,301L580.9,301.4L578.8,302.5L576.8,303.6L574.7,301.3L572.7,299.1M572.7,299.1L570.6,298.6L568.6,298L565.8,294.7L564.1,290.9L563.6,287.2M572.7,299.1L570.8,301.9L569,304.7L566.7,306.5L564.3,308.4L562,310.2L559.6,312L557.1,313.8L554.6,315.6M554.6,315.6L558,315.2L561.3,314.8L564.7,314.3L568,313.8L571.4,313.4L574.7,312.9L578.1,312.4L581.5,311.9L584.9,311.4L588.3,310.9L591.7,310.4L595.1,309.9L598.5,309.4L601.9,308.8L605.3,308.3L608.6,307.7L612,307.1L615.4,306.6L618.8,306L622.2,305.4L625.6,304.8L629,304.1L632.3,303.5L635.7,302.9L639.1,302.2L642.5,301.5L645.8,300.9M554.6,315.6L551.2,316L547.8,316.4L544.3,316.8L540.9,317.1L537.4,317.5L534,317.8L530.5,318.1L527.1,318.4L523.6,318.7L520.2,319L516.8,319.3L513.3,319.6L509.9,319.8L506.4,320.1L502.9,320.3L503.1,322.6L499.8,322.8L496.4,323.1L493,323.3L489.6,323.6L486.2,323.8M578.1,312.4L578.4,316.1L576.3,318.3L574.2,320.5L571.4,322L568.6,323.5L566.9,323.7L565.1,324L563.2,325.7L561.4,327.5L558.8,330.7L555.9,331.9L553,333.1L550,336.4L550,340.2M564.5,338.3L561.6,338.7L558.7,339.1L555.8,339.4L552.9,339.8L550,340.2L546.9,340.5L543.8,340.9L540.7,341.3L537.6,341.6L534.5,341.9L531.1,342.3L527.6,342.7L524.2,343L520.7,343.3L517.2,343.7L513.8,344L510.3,344.3L506.8,344.6L503.4,344.9L499.8,345.2L496.2,345.4L492.5,345.7L488.9,345.9L485.3,346.2L481.7,346.4L478.1,346.6M564.5,338.3L567.2,336.9L569.9,335.6L572.6,334.2L575.8,333.7L579.1,333.2L582.3,332.8L585.5,332.3L588.8,331.8L589,333.2L590.9,334.4L592.5,336.9L595.9,336.4L599.2,335.9L602.6,335.5L605.9,335L609.9,337.9L613.9,340.7L617.9,343.6L622,346.4M564.5,338.3L562.2,343.1L565.6,345.3L568.9,347.4L571.1,349.8L573.3,352.1L575.8,354.7L578.3,357.3L581.4,358.8L584.8,361.8L588.2,364.9L590,368.3L591.8,371.8L593.6,374.7L595.4,377.5L598.4,377.8M534.5,341.9L535.6,345.8L536.7,349.6L537.8,353.5L538.8,357.4L539.9,361.2L541,365.1L542.1,368.9L543.2,372.7L544.7,375.7L546.1,378.7L546.1,382L546.2,385.4L546.6,389L547.1,392.7L547.8,396.3L548.6,400L550.8,404M550.8,404L554.6,403.8L558.3,403.6L562.1,403.4L565.8,403.1L569.5,402.9L573.3,402.6L577,402.3L580.8,402L584.5,401.7L587.1,404.5L586.9,401.2L586.8,398L590.4,398.2L593.9,398.4M548.6,400L544.9,400.4L541.3,400.8L537.6,401.2L534,401.5L530.3,401.9L526.7,402.3L523,402.6L519.4,402.9L515.7,403.3L517.2,405.7L518.7,408.2L518.2,411L517.7,413.8M503.4,344.9L503.4,349.1L503.5,353.3L503.5,357.4L503.5,361.6L503.6,365.8L503.6,370L503.6,374.2L503.6,378.4L503.7,382.6L503.7,386.7L503.7,390.9L504.1,394.6L504.6,398.4L505,402.1L505.4,405.8L505.9,409.5L506.3,413.2" fill="none" stroke="#d5ede0" stroke-width="1" stroke-linejoin="round" stroke-linecap="round"/>
<g fill="none" stroke="#4a5c70" stroke-width="0.9" stroke-dasharray="3.2,2.2">
<path d="M233,123.5 C233,114 238,108.5 248.5,107.7"/>
<path d="M512.5,244.7 C562,242 593,214 594,169.5"/>
<path d="M220,378.5 C219.5,393 211,405 196.4,411.6"/>
</g>
<g fill="#359a57"><circle cx="233" cy="127.5" r="4.1"/><circle cx="508" cy="244.5" r="4.1"/><circle cx="220" cy="374.5" r="4.1"/></g>
<circle cx="714.3" cy="513.5" r="7.7" fill="#1a5aad"/>
</svg>
<h1>US national parks threatened by climate<br>change</h1>
<div class="lab" style="left:251.5px;top:98.5px;">Glacier National Park</div>
<div class="lab" style="right:165.5px;top:134.6px;text-align:right;">Indiana Dunes<br>National Park</div>
<div class="lab" style="left:144px;top:403px;">Saguaro<br>National Park</div>
<div class="src">Sources: OSM, National Park Service</div>
<div class="afp">AFP</div>
</body></html>
